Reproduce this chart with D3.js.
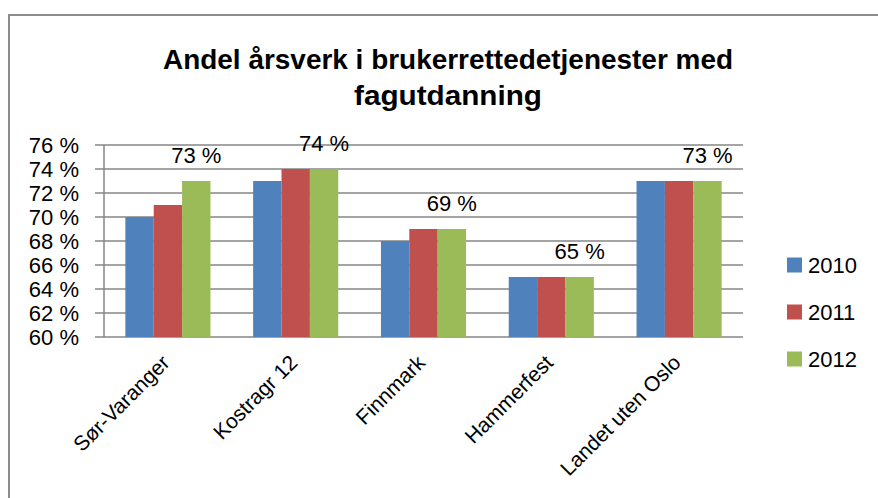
<!DOCTYPE html>
<html><head><meta charset="utf-8">
<script src="https://cdn.jsdelivr.net/npm/d3@7"></script>
<style>body{margin:0;background:#fff}svg{display:block}</style>
</head><body>
<svg id="c" width="878" height="498"></svg>
<script>
const categories = ["Sør-Varanger","Kostragr 12","Finnmark","Hammerfest","Landet uten Oslo"];
const seriesNames = ["2010","2011","2012"];
const values2010 = [70,73,68,65,73];
const values2011 = [71,74,69,65,73];
const values2012 = [73,74,69,65,73];
const yTicks = [60,62,64,66,68,70,72,74,76];
const titleLines = ["Andel årsverk i brukerrettedetjenester med","fagutdanning"];

const series = [values2010, values2011, values2012];
const colors = ["#4F81BD","#C0504D","#9BBB59"];
const font = "'Liberation Sans', Arial, sans-serif";

const svg = d3.select("#c");
svg.append("rect").attr("x",9).attr("y",15).attr("width",900).attr("height",520)
  .attr("fill","#fff").attr("stroke","#8c8c8c").attr("stroke-width",2);

// title
const tl = [[448,69,570],[448,105,188]];
titleLines.forEach((t,i)=>{
  svg.append("text").attr("x",tl[i][0]).attr("y",tl[i][1]).attr("text-anchor","middle")
    .attr("font-family",font).attr("font-weight","bold").attr("font-size",27)
    .attr("textLength",tl[i][2]).attr("lengthAdjust","spacingAndGlyphs")
    .attr("fill","#000").text(t);
});

const y = d3.scaleLinear().domain([60,76]).range([337,145]);
const x0 = d3.scaleBand().domain(categories).range([104,743]).paddingInner(0).paddingOuter(0);
const x1 = d3.scaleBand().domain(seriesNames).range([x0.bandwidth()*0.167, x0.bandwidth()*0.833]).padding(0);

// gridlines
svg.append("g").selectAll("line").data(yTicks).join("line")
  .attr("x1",95).attr("x2",743).attr("y1",d=>y(d)).attr("y2",d=>y(d))
  .attr("stroke","#868686").attr("stroke-width",1.5);
// y axis line
svg.append("line").attr("x1",104).attr("x2",104).attr("y1",y(76)).attr("y2",y(60))
  .attr("stroke","#868686").attr("stroke-width",1.5);
// y labels
svg.append("g").selectAll("text").data(yTicks).join("text")
  .attr("x",79).attr("y",d=>y(d)+8).attr("text-anchor","end")
  .attr("font-family",font).attr("font-size",22).attr("fill","#000")
  .text(d=>d+" %");

// bars
const g = svg.append("g");
categories.forEach((c,ci)=>{
  series.forEach((s,si)=>{
    g.append("rect").attr("x",x0(c)+x1(seriesNames[si])).attr("width",x1.bandwidth())
      .attr("y",y(s[ci])).attr("height",y(60)-y(s[ci])).attr("fill",colors[si]);
  });
});
// data labels 2012
svg.append("g").selectAll("text").data(categories).join("text")
  .attr("x",c=>x0(c)+x1("2012")+x1.bandwidth()/2)
  .attr("y",(c,i)=>y(values2012[i])-18).attr("text-anchor","middle")
  .attr("font-family",font).attr("font-size",22).attr("fill","#000")
  .text((c,i)=>values2012[i]+" %");

// category labels
svg.append("g").selectAll("text").data(categories).join("text")
  .attr("transform",c=>`translate(${x0(c)+x0.bandwidth()/2+3},${364}) rotate(-45)`)
  .attr("text-anchor","end").attr("font-family",font).attr("font-size",21).attr("fill","#000")
  .text(c=>c);

// legend
const lg = svg.append("g");
seriesNames.forEach((n,i)=>{
  const yy = 265 + i*47;
  lg.append("rect").attr("x",787).attr("y",yy-7.5).attr("width",15).attr("height",15).attr("fill",colors[i]);
  lg.append("text").attr("x",808).attr("y",yy+8).attr("font-family",font).attr("font-size",22).attr("fill","#000").text(n);
});
</script>
</body></html>
